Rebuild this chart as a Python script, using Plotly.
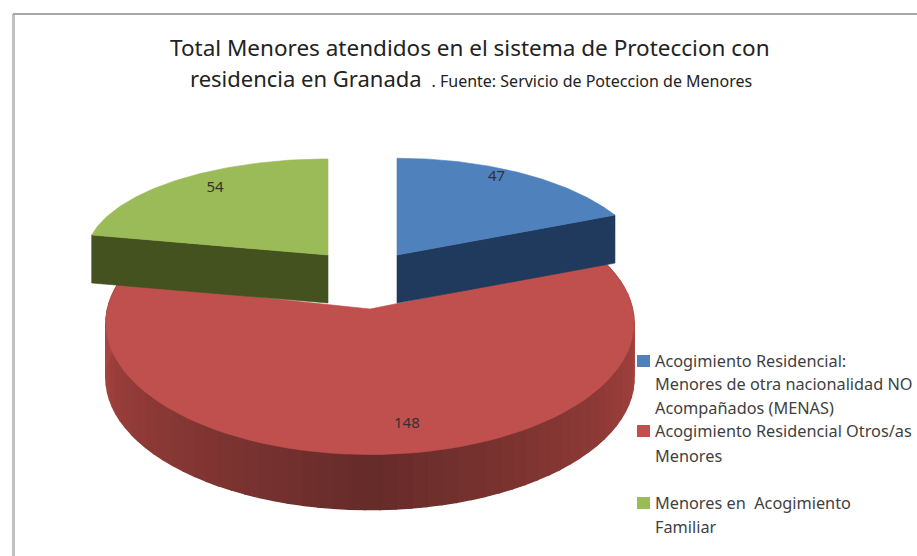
import math
import plotly.graph_objects as go

categories = ["Acogimiento Residencial: Menores de otra nacionalidad NO Acompañados (MENAS)",
              "Acogimiento Residencial Otros/as Menores",
              "Menores en Acogimiento Familiar"]
legend_lines = [["Acogimiento Residencial:", "Menores de otra nacionalidad NO", "Acompañados (MENAS)"],
                ["Acogimiento Residencial Otros/as", "Menores"],
                ["Menores en  Acogimiento", "Familiar"]]
values = [47, 148, 54]
top_colors = ["#4f81bd", "#c0504d", "#9bbb59"]
side_colors = ["#1f3a5c", "#a8433f", "#44521f"]

# projection parameters per slice: cx, cy, R, A, k, depth
proj = [dict(cx=397, cy=255, R=250, A=113, k=0.168, d=48),
        dict(cx=370, cy=309, R=262.5, A=130, k=0.107, d=55),
        dict(cx=328, cy=255, R=242, A=97, k=0.01, d=48)]
label_pos = [(30, 0.9), (171, 0.82), (-34, 0.84)]
legend_y = [[361, 384, 408], [431, 456], [503, 527]]

total = sum(values)
spans = []
acc = 0.0
for v in values:
    spans.append((acc, acc + 360.0 * v / total))
    acc += 360.0 * v / total


def pt(p, theta, r=1.0, drop=0.0):
    a = math.radians(theta)
    t = r * math.cos(a)
    q = 1 / (1 + p["k"] * t)
    return p["cx"] + p["R"] * r * math.sin(a) * q, p["cy"] - p["A"] * t * q + drop


def arc(p, a0, a1, drop=0.0, n=80):
    pts = [pt(p, a0 + (a1 - a0) * i / n, 1.0, drop) for i in range(n + 1)]
    return [q[0] for q in pts], [q[1] for q in pts]


def mix(c1, c2, f):
    return "rgb(%d,%d,%d)" % tuple(c1[i] + (c2[i] - c1[i]) * f for i in range(3))


fig = go.Figure()


def poly(xs, ys, color, name=None, width=0.6):
    fig.add_trace(go.Scatter(
        x=xs + xs[:1], y=ys + ys[:1], mode="lines", fill="toself", fillcolor=color,
        line=dict(color=color, width=width), name=name, showlegend=False, hoverinfo="skip"))


# red body: rim built from small segments with a shaded gradient
p_red = proj[1]
a0, a1 = spans[1]
N = 70
for i in range(N):
    b0 = a0 + (a1 - a0) * i / N
    b1 = a0 + (a1 - a0) * (i + 1) / N
    xt, yt = arc(p_red, b0, b1, 0, 3)
    xb, yb = arc(p_red, b1, b0, p_red["d"], 3)
    m = (b0 + b1) / 2
    f = max(0.0, 1 - abs(m - 180) / 90.0)
    poly(xt + xb, yt + yb, mix((170, 68, 64), (102, 44, 42), f), width=1.5)

# top faces and cut sides, red first, blue and green above
xr, yr = arc(p_red, a0, a1)
poly(xr + [p_red["cx"]], yr + [p_red["cy"]], top_colors[1], categories[1])

for idx in (0, 2):
    p = proj[idx]
    s0, s1 = spans[idx]
    if idx == 2:
        s0, s1 = s0 - 360, s1 - 360
    cut = s1 if idx == 0 else s0
    ex, ey = pt(p, cut)
    poly([p["cx"], ex, ex, p["cx"]], [p["cy"], ey, ey + p["d"], p["cy"] + p["d"]], side_colors[idx])
    xa, ya = arc(p, s0, s1)
    poly(xa + [p["cx"]], ya + [p["cy"]], top_colors[idx], categories[idx])

lx, ly = [], []
for p, (th, r) in zip(proj, label_pos):
    q = pt(p, th, r)
    lx.append(q[0])
    ly.append(q[1])
fig.add_trace(go.Scatter(x=lx, y=ly, mode="text", text=[str(v) for v in values], showlegend=False,
                         hoverinfo="skip", textposition="middle center",
                         textfont=dict(family="Noto Sans", size=15, color="#333333")))

annotations = [
    dict(xref="x", yref="y", x=470, y=47, showarrow=False, xanchor="center", yanchor="middle",
         text="Total Menores atendidos en el sistema de Proteccion con",
         font=dict(family="Noto Sans", size=22.5, color="#222222")),
    dict(xref="x", yref="y", x=471, y=78, showarrow=False, xanchor="center", yanchor="middle",
         text="residencia en Granada <span style='font-size:16px'>&nbsp;. Fuente: Servicio de Poteccion de Menores</span>",
         font=dict(family="Noto Sans", size=22, color="#222222")),
]
shapes = [dict(type="line", xref="x", yref="y", x0=13.5, x1=13.5, y0=14, y1=556, line=dict(color="#c0c0c0", width=3)),
          dict(type="line", xref="x", yref="y", x0=13, x1=917, y0=14, y1=14, line=dict(color="#a8a8a8", width=2))]
for lines, ys, c in zip(legend_lines, legend_y, top_colors):
    shapes.append(dict(type="rect", xref="x", yref="y", x0=637, x1=650, y0=ys[0] - 6, y1=ys[0] + 6,
                       fillcolor=c, line=dict(width=0)))
    for t, y in zip(lines, ys):
        annotations.append(dict(xref="x", yref="y", x=653, y=y, showarrow=False, xanchor="left",
                                yanchor="middle", text=t,
                                font=dict(family="Noto Sans", size=16.3, color="#3f3f3f")))

fig.update_layout(
    width=917, height=556, margin=dict(l=0, r=0, t=0, b=0),
    paper_bgcolor="white", plot_bgcolor="white", showlegend=False,
    xaxis=dict(range=[0, 917], visible=False, fixedrange=True),
    yaxis=dict(range=[556, 0], visible=False, fixedrange=True),
    annotations=annotations, shapes=shapes,
)
fig.write_html("out.html", config={"displayModeBar": False},
               post_script="document.body.style.margin='0';document.body.style.overflow='hidden';")
